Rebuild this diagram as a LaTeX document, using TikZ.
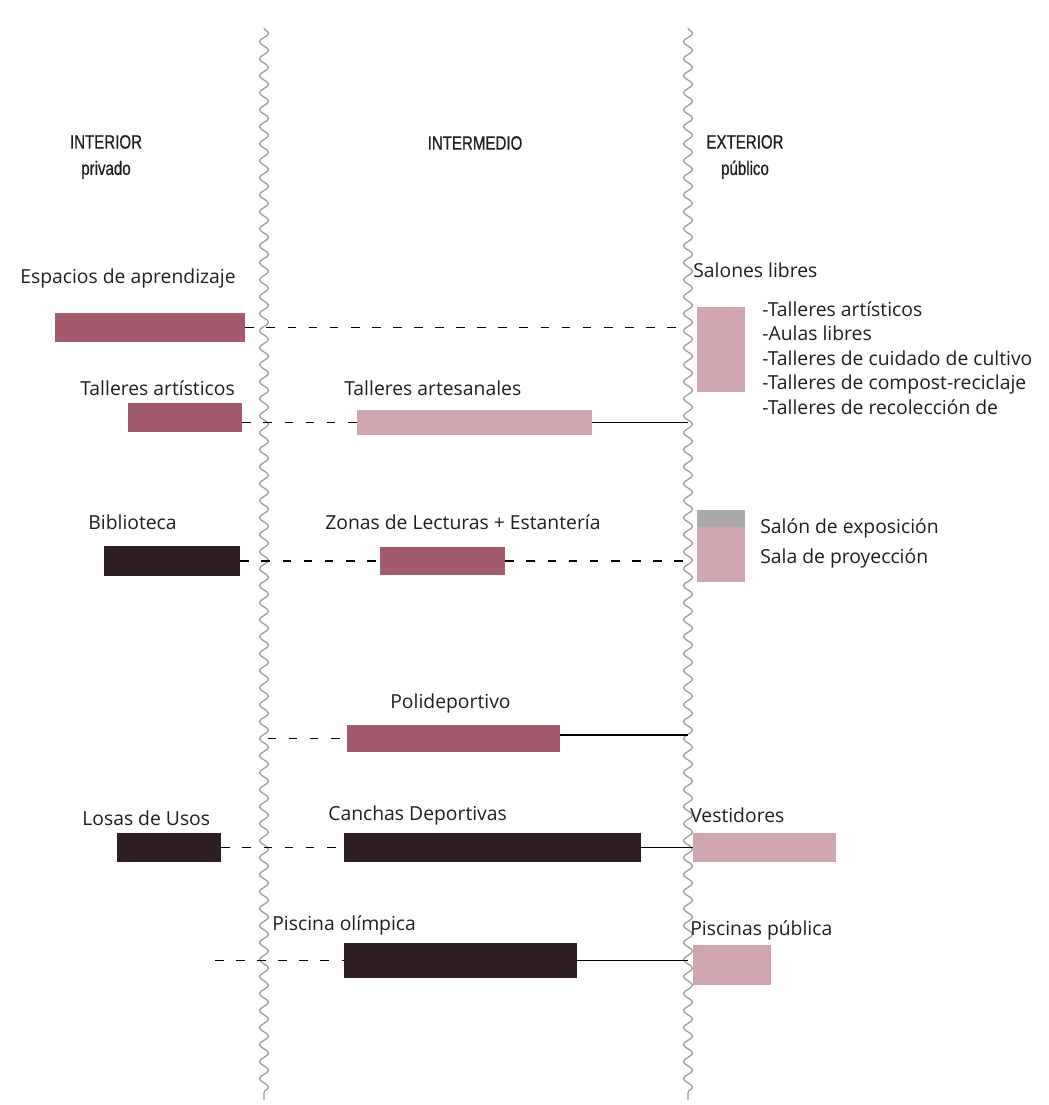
\documentclass[tikz,border=0pt]{standalone}
\usepackage{fontspec}
\setmainfont{Open Sans}
\newfontfamily\headfont[FakeStretch=0.78, FakeBold=0.6]{Liberation Sans}
\usepackage{xcolor}
\usetikzlibrary{decorations.pathmorphing, fit, positioning}

\definecolor{rosa}{HTML}{A35A6C}
\definecolor{rosaclaro}{HTML}{CFA5AF}
\definecolor{vino}{HTML}{2F1D25}
\definecolor{gris}{HTML}{9A9A9A}
\definecolor{texto}{HTML}{1E1E1E}

\begin{document}
\begin{tikzpicture}[x=0.02cm, y=-0.02cm,
    limite/.style={draw=gris, line width=0.7pt, decorate,
        decoration={snake, segment length=0.34cm, amplitude=0.09cm}},
    barra/.style={inner sep=0pt, draw=none, fill=#1},
    etiqueta/.style={font=\fontsize{11}{14}\selectfont, text=texto, anchor=west, inner sep=0pt},
    titulo/.style={font=\headfont\fontsize{11}{15}\selectfont, text=texto, align=center},
    enlace/.style={draw=black, line width=1pt},
    punteado/.style={enlace, dash pattern=on 5pt off 7pt}]
    \useasboundingbox (0,0) rectangle (1048,1105);

    % limites entre zonas
    \coordinate (borde izq) at (264,0);
    \coordinate (borde der) at (688,0);
    \draw[limite] (264,28) -- (264,1100);
    \draw[limite] (688,28) -- (688,1100);

    \node[titulo] (interior) at (106,157) {INTERIOR\\privado};
    \node[titulo] (intermedio) at (475,143) {INTERMEDIO};
    \node[titulo] (exterior) at (745,157) {EXTERIOR\\público};

    % espacios de aprendizaje
    \node[etiqueta] (t espacios) at (20,278) {Espacios de aprendizaje};
    \node[barra=rosa, fit={(55,313) (245,342)}] (espacios) {};
    \node[etiqueta] (t salones) at (693,270) {Salones libres};
    \node[barra=rosaclaro, fit={(697,307) (745,392)}] (salones) {};
    \node[etiqueta, anchor=north west, align=left] (t lista) at (762,301)
        {-Talleres artísticos\\-Aulas libres\\-Talleres de cuidado de cultivo\\
         -Talleres de compost-reciclaje\\-Talleres de recolección de};

    % talleres
    \node[etiqueta] (t artisticos) at (80,388) {Talleres artísticos};
    \node[barra=rosa, fit={(128,403) (242,432)}] (artisticos) {};
    \node[etiqueta] (t artesanales) at (344,388) {Talleres artesanales};
    \node[barra=rosaclaro, fit={(357,410) (592,435)}] (artesanales) {};

    % lectura
    \node[etiqueta] (t biblioteca) at (88,522) {Biblioteca};
    \node[barra=vino, fit={(104,546) (240,576)}] (biblioteca) {};
    \node[etiqueta] (t lecturas) at (325,522) {Zonas de Lecturas + Estantería};
    \node[barra=rosa, fit={(380,547) (505,575)}] (lecturas) {};
    \node[barra=rosaclaro, fit={(697,510) (745,582)}] (exposicion) {};
    \fill[gris!85] (697,510) rectangle (745,527);
    \node[etiqueta] (t exposicion) at (760,528) {Salón de exposición};
    \node[etiqueta] (t proyeccion) at (760,558) {Sala de proyección};

    % deportes
    \node[etiqueta] (t poli) at (390,703) {Polideportivo};
    \node[barra=rosa, fit={(347,725) (560,752)}] (poli) {};

    \node[etiqueta] (t losas) at (82,818) {Losas de Usos};
    \node[barra=vino, fit={(117,833) (221,862)}] (losas) {};
    \node[etiqueta] (t canchas) at (328,815) {Canchas Deportivas};
    \node[barra=vino, fit={(344,833) (641,862)}] (canchas) {};
    \node[etiqueta] (t vestidores) at (690,815) {Vestidores};
    \node[barra=rosaclaro, fit={(693,833) (836,862)}] (vestidores) {};

    \coordinate (inicio piscina) at (215,963);
    \node[etiqueta] (t piscina) at (272,925) {Piscina olímpica};
    \node[barra=vino, fit={(344,943) (577,978)}] (piscina) {};
    \node[etiqueta] (t publica) at (690,930) {Piscinas pública};
    \node[barra=rosaclaro, fit={(693,945) (771,985)}] (publica) {};

    % conexiones
    \draw[punteado] (espacios.east) -- (espacios.east -| borde der);
    \draw[punteado] (artesanales.west -| artisticos.east) -- (artesanales.west);
    \draw[enlace] (artesanales.east) -- (artesanales.east -| borde der);
    \draw[punteado] (biblioteca.east) -- (lecturas.west);
    \draw[punteado] (lecturas.east) -- (lecturas.east -| borde der);
    \draw[punteado] ([xshift=2pt]poli.west -| borde izq) -- (poli.west);
    \draw[enlace] ([yshift=2pt]poli.east) -- ([yshift=2pt]poli.east -| borde der);
    \draw[punteado] (losas.east) -- (canchas.west);
    \draw[enlace] (canchas.east) -- (vestidores.west);
    \draw[punteado] (piscina.west -| inicio piscina) -- (piscina.west);
    \draw[enlace] (piscina.east) -- (piscina.east -| borde der);
\end{tikzpicture}
\end{document}
